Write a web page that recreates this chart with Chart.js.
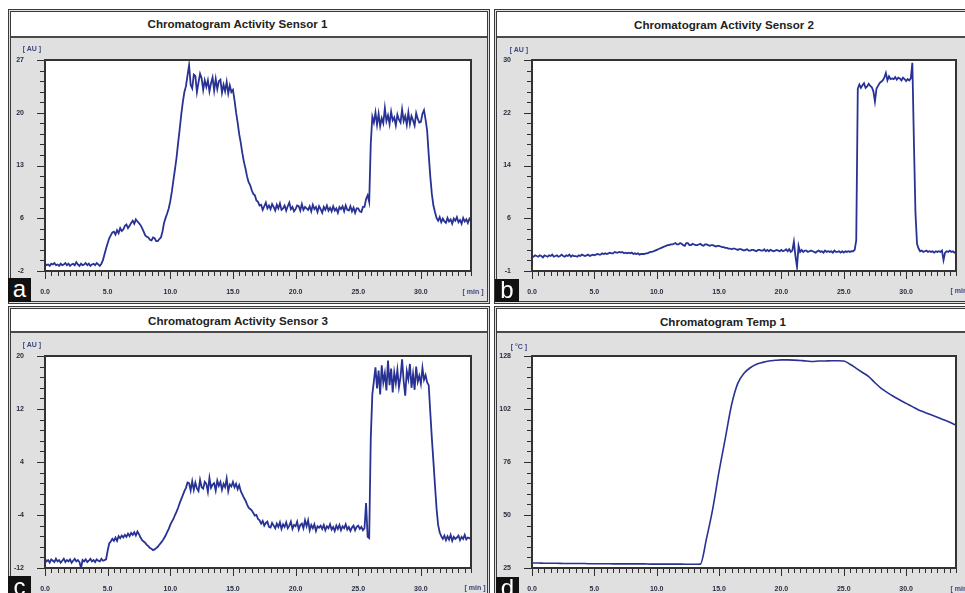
<!DOCTYPE html>
<html><head><meta charset="utf-8">
<script src="https://cdn.jsdelivr.net/npm/chart.js@4.4.0/dist/chart.umd.min.js"></script>
<style>
html,body{margin:0;padding:0;background:#fff;width:965px;height:593px;overflow:hidden;position:relative;font-family:"Liberation Sans",Arial,sans-serif}
.panel{position:absolute;box-sizing:border-box;border:3px double #3a3a3a;background:#e0e0e0}
.tbar{position:absolute;left:0;right:0;top:0;background:#fff;border-bottom:2px solid #4a4a4a}
.ttl{position:absolute;font-weight:bold;font-size:11.6px;line-height:1;color:#222;white-space:nowrap;transform:translate(-50%,-50%)}
.unit{position:absolute;font-weight:bold;font-size:7px;line-height:1;color:#3b4680;white-space:nowrap;transform:translate(-50%,-50%)}
.lt{position:absolute;background:#111;color:#fff;font-size:24px;line-height:22px;text-align:center;overflow:hidden}
canvas{position:absolute}
</style></head><body>
<div class="panel" style="left:8px;top:9px;width:482px;height:295px"><div class="tbar" style="height:24px"></div></div>
<div class="panel" style="left:494px;top:9px;width:490px;height:295px"><div class="tbar" style="height:24px"></div></div>
<div class="panel" style="left:8px;top:306px;width:482px;height:300px"><div class="tbar" style="height:22px"></div></div>
<div class="panel" style="left:494px;top:306px;width:490px;height:300px"><div class="tbar" style="height:22px"></div></div>

<div class="ttl" style="left:237.5px;top:24px">Chromatogram Activity Sensor 1</div>
<div class="ttl" style="left:724px;top:25px">Chromatogram Activity Sensor 2</div>
<div class="ttl" style="left:238px;top:321px">Chromatogram Activity Sensor 3</div>
<div class="ttl" style="left:723px;top:321.5px">Chromatogram Temp 1</div>

<canvas id="c1"></canvas>
<canvas id="c2"></canvas>
<canvas id="c3"></canvas>
<canvas id="c4"></canvas>

<div class="unit" style="left:32px;top:48px">[ AU ]</div>
<div class="unit" style="left:519px;top:49px">[ AU ]</div>
<div class="unit" style="left:32px;top:344px">[ AU ]</div>
<div class="unit" style="left:519px;top:345.5px">[ °C ]</div>
<div class="unit" style="left:473px;top:291px">[ min ]</div>
<div class="unit" style="left:961px;top:290px">[ min ]</div>
<div class="unit" style="left:475px;top:587px">[ min ]</div>
<div class="unit" style="left:961px;top:588px">[ min ]</div>

<div class="lt" style="left:8px;top:278px;width:23px;height:24px">a</div>
<div class="lt" style="left:495px;top:279px;width:24px;height:23px">b</div>
<div class="lt" style="left:8px;top:576px;width:23px;height:17px">c</div>
<div class="lt" style="left:496px;top:577px;width:23px;height:16px">d</div>

<script>
// ---- data ----
const SAMPLE_STEP = 0.125;  // min between samples of the sensor traces (8 per row = 1 min)
const TEMP_STEP = 0.5;      // min between samples of the temperature trace

const SENSOR1 = [
 -1.0,-1.2,-1.1,-1.3,-1.0,-1.1,-0.9,-1.2,
 -1.1,-1.3,-1.0,-1.2,-1.1,-0.9,-1.2,-1.0,
 -1.3,-1.1,-1.0,-1.2,-0.8,-1.1,-1.3,-1.0,
 -1.2,-1.1,-0.9,-1.2,-1.0,-1.3,-1.1,-1.0,
 -1.2,-0.9,-1.1,-1.3,-1.0,-0.5,0.3,1.1,
 1.8,2.5,2.9,3.3,3.4,3.0,3.6,3.2,
 3.9,3.5,3.7,4.2,4.4,3.9,4.2,4.6,
 4.9,4.5,5.1,4.8,4.6,4.3,3.9,3.4,
 2.9,2.7,2.6,2.3,2.2,2.6,2.5,2.1,
 2.1,2.4,2.6,3.4,4.6,5.3,5.9,6.6,
 7.6,8.9,10.5,12.0,13.6,15.6,17.5,19.5,
 21.2,22.6,23.4,24.9,26.3,23.6,23.1,25.0,
 24.8,22.6,23.9,25.1,24.5,22.9,24.2,23.3,
 24.2,22.7,23.8,24.6,22.8,24.4,23.0,24.1,
 24.3,22.5,23.6,22.7,24.0,22.4,23.5,22.6,
 22.9,21.5,19.8,18.4,16.8,15.6,14.2,13.0,
 12.1,11.0,10.2,9.8,9.1,8.6,8.4,7.7,
 7.5,7.0,7.1,6.4,6.9,7.4,6.6,7.0,
 6.5,7.2,6.8,6.3,7.1,6.6,7.3,6.4,
 6.6,7.0,6.3,6.9,7.4,6.5,6.8,6.2,
 6.5,7.0,6.9,6.3,7.2,6.4,6.8,6.6,
 6.4,6.9,6.2,7.1,6.5,6.8,6.1,6.9,
 6.5,6.0,6.8,6.4,7.0,6.3,6.7,6.2,
 6.9,6.3,6.6,6.0,6.8,6.5,6.9,6.2,
 7.0,6.4,6.3,6.9,6.2,6.7,6.0,6.6,
 6.6,6.2,6.1,6.8,6.8,7.9,8.4,7.5,
 15.5,19.2,18.4,19.8,18.1,19.6,17.9,19.0,
 18.3,20.4,18.6,19.4,18.2,19.9,18.7,19.1,
 18.0,19.5,18.8,18.4,20.2,18.6,19.3,18.1,
 19.8,18.2,19.3,18.7,18.0,19.7,18.9,18.4,
 18.5,19.6,20.1,18.8,17.3,14.0,11.0,8.6,
 7.0,6.1,5.3,4.9,5.4,4.7,5.2,4.8,
 4.6,5.3,4.8,5.1,4.5,5.2,4.9,5.4,
 4.7,5.0,4.5,5.3,4.8,5.1,4.6,5.2,
 4.9
];
const SENSOR2 = [
 1.2,1.1,1.3,1.2,1.1,1.3,1.2,1.0,
 1.3,1.2,1.1,1.3,1.2,1.4,1.1,1.2,
 1.3,1.1,1.2,1.4,1.2,1.1,1.3,1.2,
 1.4,1.1,1.3,1.2,1.2,1.1,1.3,1.2,
 1.4,1.3,1.2,1.3,1.4,1.2,1.3,1.4,
 1.3,1.4,1.5,1.4,1.4,1.6,1.5,1.6,
 1.5,1.6,1.7,1.6,1.6,1.8,1.7,1.7,
 1.8,1.7,1.8,1.6,1.7,1.6,1.7,1.6,
 1.7,1.5,1.6,1.5,1.6,1.4,1.5,1.5,
 1.5,1.6,1.6,1.7,1.8,1.8,1.9,2.0,
 2.1,2.2,2.3,2.4,2.5,2.6,2.7,2.8,
 2.8,2.9,2.9,3.0,3.1,2.9,2.9,3.1,
 3.0,2.8,2.7,3.1,3.1,2.8,2.8,3.0,
 2.9,2.8,2.8,2.9,3.0,2.8,2.7,2.9,
 2.9,2.8,2.7,2.8,2.8,2.7,2.6,2.7,
 2.7,2.6,2.5,2.5,2.4,2.4,2.3,2.3,
 2.2,2.3,2.3,2.2,2.1,2.2,2.2,2.1,
 2.0,2.1,2.2,2.0,2.0,2.1,2.1,2.0,
 1.9,2.1,2.1,2.0,2.0,2.2,1.9,2.1,
 1.9,2.1,2.0,1.9,2.0,2.1,2.0,1.9,
 2.1,1.9,2.0,2.2,1.9,2.2,1.8,2.0,
 3.3,1.2,-0.4,2.7,1.8,2.1,1.8,2.0,
 2.0,1.8,1.9,2.0,1.9,1.8,1.7,1.9,
 2.0,1.8,1.9,1.7,2.0,1.8,1.9,1.8,
 1.9,1.7,2.0,1.8,1.8,1.9,1.7,1.9,
 1.7,1.9,1.8,1.9,1.8,1.9,1.9,2.1,
 3.5,25.8,26.4,25.9,26.3,26.6,25.9,26.1,
 26.5,26.2,26.0,25.4,23.9,25.8,26.2,26.6,
 26.8,27.0,27.4,28.1,27.0,27.6,27.2,27.3,
 27.2,27.5,27.1,27.4,27.3,27.0,27.4,27.2,
 26.9,27.2,27.0,27.3,29.6,18.0,7.5,3.0,
 2.3,1.9,2.0,1.8,1.9,2.0,1.8,1.9,
 1.8,1.9,1.7,1.9,1.8,1.9,1.8,2.0,
 0.6,1.7,1.9,1.8,2.0,1.8,1.9,1.7,
 1.8
];
const SENSOR3 = [
 -10.6,-11.0,-10.8,-11.2,-10.7,-10.9,-11.1,-10.6,
 -11.0,-10.8,-11.2,-10.9,-10.6,-11.1,-10.8,-11.0,
 -10.7,-11.2,-10.9,-10.6,-11.0,-10.8,-11.1,-12.0,
 -10.8,-11.0,-10.7,-11.1,-10.9,-10.6,-11.0,-10.8,
 -11.1,-10.7,-10.9,-11.0,-10.6,-10.9,-10.8,-10.7,
 -9.4,-8.3,-8.0,-7.6,-7.9,-7.4,-7.9,-7.2,
 -7.5,-7.1,-7.4,-7.0,-7.3,-6.8,-7.2,-6.7,
 -7.0,-6.6,-7.1,-6.5,-6.9,-7.4,-7.8,-8.0,
 -8.2,-8.5,-8.7,-9.0,-9.1,-9.3,-9.2,-9.0,
 -8.8,-8.5,-8.2,-7.9,-7.5,-7.1,-6.6,-6.1,
 -5.5,-5.0,-4.6,-4.0,-3.5,-2.9,-2.2,-1.6,
 -1.0,-0.4,0.1,0.9,0.8,-0.3,1.1,-0.2,
 0.9,0.0,-0.4,1.3,0.2,0.0,1.0,0.7,
 -0.5,1.6,0.1,0.6,0.8,-0.3,1.2,0.4,
 1.0,-0.2,0.7,0.2,1.5,-0.4,0.6,0.3,
 1.0,0.2,0.7,-0.1,0.5,-0.4,-0.9,-1.4,
 -1.8,-2.4,-2.9,-3.1,-3.3,-3.7,-4.1,-4.0,
 -4.6,-4.8,-5.3,-4.9,-5.6,-5.2,-5.0,-5.8,
 -5.9,-5.2,-5.6,-6.0,-5.3,-5.8,-5.1,-6.1,
 -5.4,-5.8,-5.1,-6.0,-5.6,-5.0,-6.1,-5.5,
 -5.7,-5.0,-6.2,-5.5,-5.3,-6.0,-4.8,-5.7,
 -4.8,-6.3,-5.5,-6.0,-5.4,-6.4,-5.7,-5.9,
 -5.6,-6.1,-5.5,-6.3,-5.7,-6.0,-5.4,-6.2,
 -5.8,-6.4,-5.6,-6.1,-5.5,-6.3,-5.7,-6.0,
 -5.4,-6.2,-5.8,-6.4,-5.9,-5.6,-6.3,-5.8,
 -5.6,-6.1,-5.8,-6.3,-6.0,-2.2,-7.3,-7.5,
 7.6,14.2,16.2,18.3,15.1,17.8,14.2,18.6,
 16.0,17.4,14.8,19.3,15.6,18.1,14.5,17.5,
 15.9,17.9,15.3,16.8,19.5,16.2,14.0,17.7,
 16.5,18.8,15.2,17.3,14.9,18.4,16.1,17.0,
 15.8,18.2,16.4,17.1,16.0,15.6,11.5,7.6,
 4.1,0.5,-3.0,-5.5,-6.6,-7.2,-7.6,-7.1,
 -7.8,-7.2,-7.7,-7.0,-7.9,-7.3,-7.6,-7.4,
 -7.1,-7.8,-7.3,-7.6,-7.0,-7.7,-7.4,-7.5,
 -7.6
];
const TEMP1 = [
 27.4,27.4,27.3,27.3,27.3,27.2,27.2,27.2,27.2,27.1,
 27.1,27.1,27.1,27.0,27.0,27.0,27.0,27.0,27.0,26.9,
 26.9,26.9,26.9,26.9,26.9,26.8,26.8,26.9,39.5,54.0,
 71.9,88.0,104.2,114.7,119.6,122.3,124.0,124.9,125.6,125.9,
 126.1,126.1,126.0,125.8,125.6,125.3,125.6,125.6,125.7,125.7,
 125.6,124.0,122.0,120.0,118.0,115.0,112.3,110.2,108.3,106.6,
 105.0,103.4,101.8,100.6,99.4,98.2,97.0,95.8,94.4
];

// ---- axes ----
const X_RANGE = [0, 34];
const X_MAJOR = [0, 5, 10, 15, 20, 25, 30];
const X_LABELS = ['0.0', '5.0', '10.0', '15.0', '20.0', '25.0', '30.0'];
const X_MINOR_STEP = 0.5;
const Y1_RANGE = [-2, 27];  const Y1_LABELS = ['-2', '6', '13', '20', '27'];
const Y2_RANGE = [-1, 30];  const Y2_LABELS = ['-1', '6', '14', '22', '30'];
const Y3_RANGE = [-12, 20]; const Y3_LABELS = ['-12', '-4', '4', '12', '20'];
const Y4_RANGE = [25, 128]; const Y4_LABELS = ['25', '50', '76', '102', '128'];

const LINE_COLOR = 'rgb(40,50,148)';
const TICK_FONT = {family: 'Liberation Sans', size: 7, weight: 'bold'};

function xTicks() {
  const out = [];
  const n = Math.round((X_RANGE[1] - X_RANGE[0]) / X_MINOR_STEP);
  for (let k = 0; k <= n; k++) {
    const v = X_RANGE[0] + k * X_MINOR_STEP;
    const mi = X_MAJOR.indexOf(v);
    out.push({value: v, big: mi >= 0, txt: mi >= 0 ? X_LABELS[mi] : ''});
  }
  return out;
}
function yTicks(range, labels) {
  const out = [];
  const step = (range[1] - range[0]) / (labels.length - 1);
  for (let m = 0; m < labels.length; m++) {
    const v = range[0] + m * step;
    out.push({value: v, big: true, txt: labels[m]});
    if (m < labels.length - 1) {
      for (let s = 1; s < 5; s++) out.push({value: v + s * step / 5, big: false, txt: ''});
    }
  }
  return out;
}

const framePlugin = {
  id: 'frame',
  beforeDraw(chart) {
    const {ctx, chartArea: a} = chart;
    ctx.save();
    ctx.fillStyle = '#fff';
    ctx.fillRect(a.left, a.top, a.right - a.left, a.bottom - a.top);
    ctx.restore();
  },
  afterDraw(chart) {
    const {ctx, chartArea: a, scales} = chart;
    const x = scales.x, y = scales.y;
    ctx.save();
    ctx.strokeStyle = '#2e2e2e';
    ctx.lineWidth = 1;
    ctx.beginPath();
    x.ticks.forEach(t => {
      const px = Math.round(x.getPixelForValue(t.value)) + 0.5;
      ctx.moveTo(px, a.bottom);
      ctx.lineTo(px, a.bottom + (t.big ? 8 : 5));
    });
    y.ticks.forEach(t => {
      const py = Math.round(y.getPixelForValue(t.value)) + 0.5;
      ctx.moveTo(a.left, py);
      ctx.lineTo(a.left - (t.big ? 8 : 5), py);
    });
    ctx.stroke();
    ctx.lineWidth = 2;
    ctx.strokeStyle = '#333';
    ctx.strokeRect(a.left, a.top, a.right - a.left, a.bottom - a.top);
    ctx.restore();
  }
};

function makeChart(id, plot, values, step, yRange, yLabels, width, smooth) {
  const cv = document.getElementById(id);
  const W = (plot.R - plot.L) + 55, H = (plot.B - plot.T) + 55;
  cv.width = W; cv.height = H;
  cv.style.left = (plot.L - 40) + 'px';
  cv.style.top = (plot.T - 25) + 'px';
  cv.style.width = W + 'px'; cv.style.height = H + 'px';
  new Chart(cv, {
    type: 'line',
    data: {datasets: [{
      data: values.map((v, i) => ({x: i * step, y: v})),
      borderColor: LINE_COLOR,
      borderWidth: width,
      pointRadius: 0,
      tension: 0,
      cubicInterpolationMode: smooth ? 'monotone' : 'default',
      fill: false
    }]},
    options: {
      responsive: false,
      devicePixelRatio: 1,
      animation: false,
      events: [],
      layout: {padding: {left: 0, right: 15, top: 25, bottom: 0}},
      plugins: {legend: {display: false}, tooltip: {enabled: false}, title: {display: false}},
      scales: {
        x: {
          type: 'linear', min: X_RANGE[0], max: X_RANGE[1],
          afterBuildTicks: s => { s.ticks = xTicks(); },
          afterFit: s => { s.height = 30; },
          grid: {display: false}, border: {display: false},
          ticks: {autoSkip: false, maxRotation: 0, minRotation: 0, padding: 9, font: TICK_FONT, color: '#2a2d40',
                  callback: (v, i, t) => t[i].txt || ''}
        },
        y: {
          type: 'linear', min: yRange[0], max: yRange[1],
          afterBuildTicks: s => { s.ticks = yTicks(yRange, yLabels); },
          afterFit: s => { s.width = 40; },
          grid: {display: false}, border: {display: false},
          ticks: {autoSkip: false, padding: 13, font: TICK_FONT, color: '#2a2d40',
                  callback: (v, i, t) => t[i].txt || ''}
        }
      }
    },
    plugins: [framePlugin]
  });
}

makeChart('c1', {L: 45, T: 60, R: 471, B: 271}, SENSOR1, SAMPLE_STEP, Y1_RANGE, Y1_LABELS, 1.8, false);
makeChart('c2', {L: 532, T: 60, R: 956, B: 271}, SENSOR2, SAMPLE_STEP, Y2_RANGE, Y2_LABELS, 1.8, false);
makeChart('c3', {L: 45, T: 356, R: 471, B: 568}, SENSOR3, SAMPLE_STEP, Y3_RANGE, Y3_LABELS, 1.8, false);
makeChart('c4', {L: 532, T: 356, R: 956, B: 568}, TEMP1, TEMP_STEP, Y4_RANGE, Y4_LABELS, 1.6, true);
</script>
</body></html>
